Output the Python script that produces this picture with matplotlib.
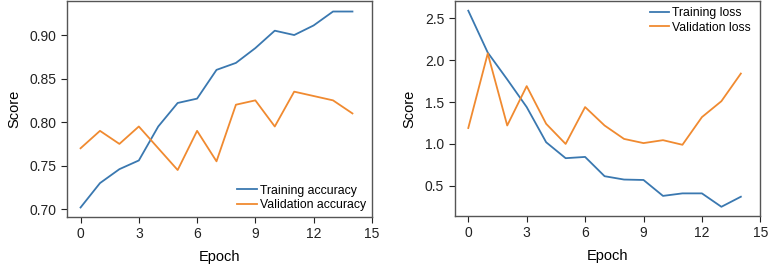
import matplotlib
matplotlib.use("Agg")
import matplotlib.pyplot as plt

plt.rcParams['font.family'] = ['Liberation Sans', 'DejaVu Sans']

epochs = list(range(15))
train_acc = [0.702, 0.730, 0.746, 0.756, 0.795, 0.822, 0.827, 0.860, 0.868,
             0.885, 0.905, 0.900, 0.911, 0.927, 0.927]
val_acc = [0.770, 0.790, 0.775, 0.795, 0.770, 0.745, 0.790, 0.755, 0.820,
           0.825, 0.795, 0.835, 0.830, 0.825, 0.810]
train_loss = [2.59, 2.09, 1.77, 1.44, 1.02, 0.83, 0.845, 0.615, 0.575,
              0.57, 0.38, 0.41, 0.41, 0.25, 0.37]
val_loss = [1.19, 2.08, 1.22, 1.69, 1.24, 1.00, 1.44, 1.22, 1.06,
            1.01, 1.045, 0.99, 1.32, 1.51, 1.84]
xticks = [0, 3, 6, 9, 12, 15]

blue = "#3a78b0"
orange = "#f08a30"
spine_col = "#555555"

fig = plt.figure(figsize=(7.68, 2.67), dpi=100)
ax1 = fig.add_axes([0.0872, 0.187, 0.397, 0.809])
ax2 = fig.add_axes([0.592, 0.191, 0.398, 0.805])

def style(ax):
    for s in ax.spines.values():
        s.set_color(spine_col)
        s.set_linewidth(1.0)
    ax.tick_params(colors="#222222", labelsize=10, length=4, width=0.8)
    ax.set_xticks(xticks)
    ax.set_xlim(-0.7, 15)
    ax.set_xlabel("Epoch", fontsize=10.5, labelpad=6)
    ax.set_ylabel("Score", fontsize=10.5, labelpad=6)

leg_kw = dict(frameon=False, fontsize=8.8, handlelength=1.6,
              handletextpad=0.25, labelspacing=0.2, borderaxespad=0.1)

ax1.plot(epochs, train_acc, color=blue, lw=1.3, label="Training accuracy")
ax1.plot(epochs, val_acc, color=orange, lw=1.3, label="Validation accuracy")
ax1.set_ylim(0.691, 0.939)
ax1.set_yticks([0.70, 0.75, 0.80, 0.85, 0.90])
style(ax1)
ax1.legend(loc="lower right", bbox_to_anchor=(1.0, 0.0), **leg_kw)

ax2.plot(epochs, train_loss, color=blue, lw=1.3, label="Training loss")
ax2.plot(epochs, val_loss, color=orange, lw=1.3, label="Validation loss")
ax2.set_ylim(0.14, 2.705)
ax2.set_yticks([0.5, 1.0, 1.5, 2.0, 2.5])
style(ax2)
ax2.legend(loc="upper right", bbox_to_anchor=(0.99, 1.0), **leg_kw)

fig.savefig("out.png", dpi=100)
